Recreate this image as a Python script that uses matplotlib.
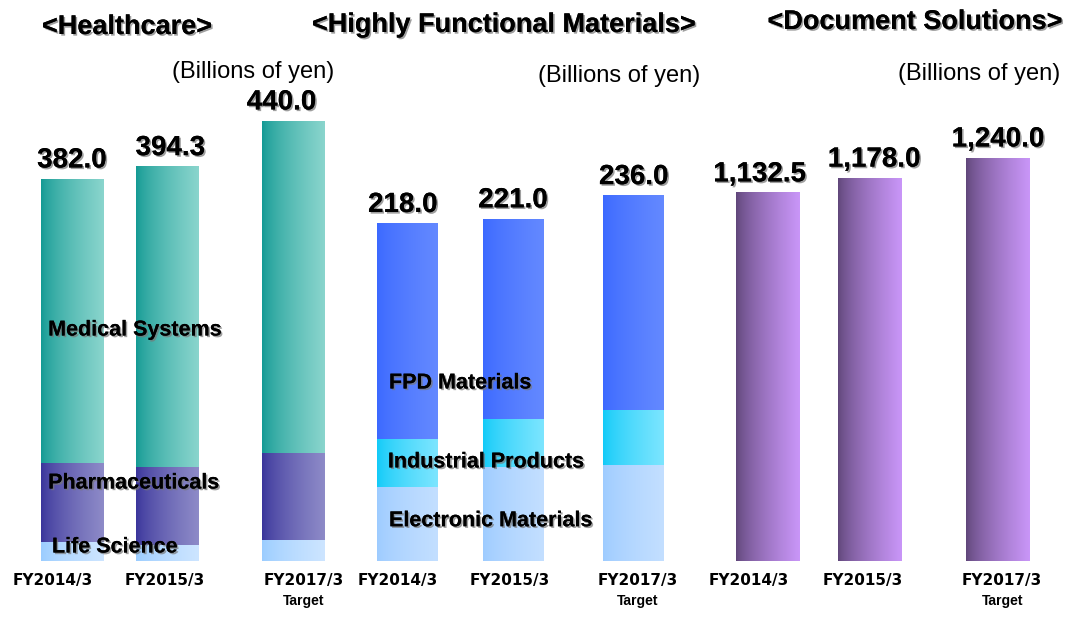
import numpy as np
import matplotlib
matplotlib.use('Agg')
from matplotlib import pyplot as plt
from matplotlib.colors import LinearSegmentedColormap
import matplotlib.patheffects as pe

# data (billions of yen)
years = ['FY2014/3', 'FY2015/3', 'FY2017/3']
hc_life = [19.0, 16.0, 21.0]
hc_pharma = [79.0, 78.0, 87.0]
hc_medical = [284.0, 300.3, 332.0]
hc_total = [382.0, 394.3, 440.0]

hfm_elec = [48.0, 61.0, 62.0]
hfm_ind = [31.0, 31.0, 35.5]
hfm_fpd = [139.0, 129.0, 138.5]
hfm_total = [218.0, 221.0, 236.0]

ds_total = [1132.5, 1178.0, 1240.0]

W, H = 1069, 617
fig = plt.figure(figsize=(W / 100, H / 100), dpi=100)

bold_font = ['Liberation Sans', 'DejaVu Sans']
shadow = [pe.withSimplePatchShadow(offset=(1.2, -1.2), shadow_rgbFace='#777777', alpha=0.7), pe.Normal()]


def grad_fill(ax, bars, c_left, c_right):
    cmap = LinearSegmentedColormap.from_list('g', [c_left, c_right])
    g = np.linspace(0, 1, 200) ** 0.7
    g = g.reshape(1, -1)
    for b in bars:
        x0, y0 = b.get_x(), b.get_y()
        w, h = b.get_width(), b.get_height()
        ax.imshow(g, extent=[x0, x0 + w, y0, y0 + h], aspect='auto', cmap=cmap,
                  vmin=0, vmax=1, zorder=2, interpolation='bilinear')
        b.set_visible(False)


def make_axes(c0, unit, scale):
    # axes placed so that x index 0 lies at pixel c0, baseline at pixel 561
    left = c0 - unit
    right = c0 + 3.2 * unit
    base = 561
    ax = fig.add_axes([left / W, (H - base) / H, (right - left) / W, base / H])
    ax.set_xlim(-1, 3.2)
    ax.set_ylim(0, base / scale)
    ax.axis('off')
    ax.patch.set_alpha(0)
    return ax


def labels(ax, xs, totals, dx_vals=(0, 0, 0), dx_cats=(0, 0, 0)):
    for x, v, dv, dc, yr in zip(xs, totals, dx_vals, dx_cats, years):
        ax.annotate(f'{v:,.1f}', (x, v), xytext=(dv, 4), textcoords='offset points',
                    ha='center', va='bottom', fontsize=20, fontweight='bold',
                    family=bold_font, path_effects=shadow, annotation_clip=False)
        ax.annotate(yr, (x, 0), xytext=(dc, -9), textcoords='offset points',
                    ha='center', va='top', fontsize=11, fontweight='bold',
                    family='DejaVu Sans', annotation_clip=False)
    ax.annotate('Target', (xs[2], 0), xytext=(dx_cats[2], -24), textcoords='offset points',
                ha='center', va='top', fontsize=10, fontweight='bold',
                family=bold_font, annotation_clip=False)


def seg_label(ax, x, y, txt):
    ax.text(x, y, txt, ha='left', va='center', fontsize=15.5, fontweight='bold',
            family=bold_font, path_effects=shadow, zorder=5)


# ---- Healthcare
ax1 = make_axes(72, 95.5, 1.0)
xs1 = [0, 1, 2.31]
wd1 = 0.65
b = ax1.bar(xs1, hc_life, wd1)
grad_fill(ax1, b, '#99CCFF', '#CDE5FF')
bottom = np.array(hc_life)
b = ax1.bar(xs1, hc_pharma, wd1, bottom=bottom)
grad_fill(ax1, b, '#38339A', '#8E8BC8')
bottom = bottom + np.array(hc_pharma)
b = ax1.bar(xs1, hc_medical, wd1, bottom=bottom)
grad_fill(ax1, b, '#119993', '#8AD5CD')
ax1.set_xlim(-1, 3.2)
ax1.set_ylim(0, 561)
labels(ax1, xs1, hc_total, dx_vals=(0, 2, -8), dx_cats=(-14, -2, 8))
seg_label(ax1, -0.25, 231, 'Medical Systems')
seg_label(ax1, -0.25, 78, 'Pharmaceuticals')
seg_label(ax1, -0.21, 14, 'Life Science')

# ---- Highly Functional Materials
sc2 = 1.548
ax2 = make_axes(407, 106, sc2)
xs2 = [0, 1, 2.14]
wd2 = 0.575
b = ax2.bar(xs2, hfm_elec, wd2)
grad_fill(ax2, b, '#9DCBFF', '#C3DFFF')
bottom = np.array(hfm_elec)
b = ax2.bar(xs2, hfm_ind, wd2, bottom=bottom)
grad_fill(ax2, b, '#0FCAF8', '#7CE5FF')
bottom = bottom + np.array(hfm_ind)
b = ax2.bar(xs2, hfm_fpd, wd2, bottom=bottom)
grad_fill(ax2, b, '#3A68FF', '#6489FF')
ax2.set_xlim(-1, 3.2)
ax2.set_ylim(0, 561 / sc2)
labels(ax2, xs2, hfm_total, dx_vals=(-3, 0, 0), dx_cats=(-7, -2, 3))
seg_label(ax2, -0.17, 115, 'FPD Materials')
seg_label(ax2, -0.18, 64, 'Industrial Products')
seg_label(ax2, -0.17, 26, 'Electronic Materials')

# ---- Document Solutions
sc3 = 0.325
ax3 = make_axes(768, 102, sc3)
xs3 = [0, 1, 2.255]
wd3 = 0.627
b = ax3.bar(xs3, ds_total, wd3)
grad_fill(ax3, b, '#5E4577', '#C996F8')
ax3.set_xlim(-1, 3.2)
ax3.set_ylim(0, 561 / sc3)
labels(ax3, xs3, ds_total, dx_vals=(-6, 3, 0), dx_cats=(-14, -5, 3))

# titles and units
for x, y, t in [(127, 27, '<Healthcare>'), (504, 25, '<Highly Functional Materials>'),
                (915, 22, '<Document Solutions>')]:
    fig.text(x / W, 1 - y / H, t, ha='center', va='center', fontsize=19.5,
             fontweight='bold', family=bold_font, path_effects=shadow)
for x, y in [(253, 72), (619, 76), (979, 74)]:
    fig.text(x / W, 1 - y / H, '(Billions of yen)', ha='center', va='center',
             fontsize=17, family=['Liberation Sans', 'DejaVu Sans'])

plt.savefig('out.png', dpi=100)
